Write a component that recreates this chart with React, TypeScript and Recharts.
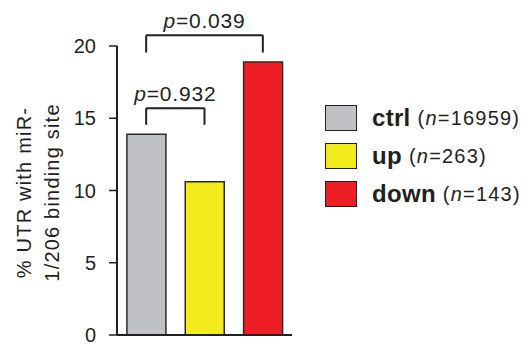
import { BarChart, Bar, Cell, XAxis, YAxis, Legend, ReferenceLine, Label } from "recharts";

const groups = ["ctrl", "up", "down"];
const percents = [13.9, 10.6, 18.9];
const counts = [16959, 263, 143];
const yTicks = [0, 5, 10, 15, 20];

// comparisons: [left group, right group, leg bottom, bracket top, p value]
const pairs: [string, string, number, number, string][] = [
  ["ctrl", "up", 14.55, 15.7, "0.932"],
  ["ctrl", "down", 19.55, 20.75, "0.039"],
];

const COLORS = ["#c0c1c5", "#f2eb19", "#ed1f24"];
const INK = "#231f20";
const FONT = "'Liberation Sans', Arial, sans-serif";

const data = groups.map((name, i) => ({ name, value: percents[i] }));

function LegendBox() {
  return (
    <div style={{ fontFamily: FONT, color: INK }}>
      {groups.map((g, i) => (
        <div key={g} style={{ display: "flex", alignItems: "center", height: 38 }}>
          <div
            style={{
              width: 30,
              height: 24,
              background: COLORS[i],
              border: `1.5px solid ${INK}`,
            }}
          />
          <span style={{ marginLeft: 15, fontSize: 24, fontWeight: "bold", letterSpacing: 0.3 }}>{g}</span>
          <span style={{ marginLeft: 7, fontSize: 20, letterSpacing: 1.2 }}>
            (<i>n</i>={counts[i]})
          </span>
        </div>
      ))}
    </div>
  );
}

export default function App() {
  return (
    <div style={{ position: "absolute", left: 0, top: 0, width: 530, height: 345, background: "#fff" }}>
      <BarChart
        width={530}
        height={345}
        data={data}
        margin={{ top: 46, right: 238, bottom: 0, left: 0 }}
        barCategoryGap="17%"
      >
        <XAxis
          dataKey="name"
          height={10}
          tick={false}
          tickLine={false}
          axisLine={{ stroke: INK, strokeWidth: 2 }}
        />
        <YAxis
          width={117}
          domain={[0, 20]}
          ticks={yTicks}
          interval={0}
          tickSize={8}
          tickMargin={13}
          axisLine={{ stroke: INK, strokeWidth: 2 }}
          tickLine={{ stroke: INK, strokeWidth: 1.5 }}
          tick={{ fill: INK, fontSize: 20, fontFamily: FONT }}
        >
          <Label
            content={({ viewBox }: any) => {
              const cy = viewBox.y + viewBox.height / 2 + 2;
              return (
                <text
                  transform={`translate(31, ${cy}) rotate(-90)`}
                  textAnchor="middle"
                  fill={INK}
                  fontSize={20}
                  fontFamily={FONT}
                  letterSpacing={1.2}
                >
                  <tspan x={0} y={0}>% UTR with miR-</tspan>
                  <tspan x={0} y={28}>1/206 binding site</tspan>
                </text>
              );
            }}
          />
        </YAxis>
        <Bar dataKey="value" isAnimationActive={false} stroke="#2b2b2b" strokeWidth={1.5}>
          {data.map((_, i) => (
            <Cell key={i} fill={COLORS[i]} />
          ))}
        </Bar>
        {pairs.map(([a, b, lo, hi, p]) => [
          <ReferenceLine
            key={`${a}${b}l`}
            segment={[{ x: a, y: lo }, { x: a, y: hi }]}
            stroke={INK}
            strokeWidth={2}
            ifOverflow="visible"
          />,
          <ReferenceLine
            key={`${a}${b}r`}
            segment={[{ x: b, y: lo }, { x: b, y: hi }]}
            stroke={INK}
            strokeWidth={2}
            ifOverflow="visible"
          />,
          <ReferenceLine
            key={`${a}${b}h`}
            segment={[{ x: a, y: hi }, { x: b, y: hi }]}
            stroke={INK}
            strokeWidth={2}
            ifOverflow="visible"
          >
            <Label
              content={({ viewBox }: any) => (
                <text
                  x={viewBox.x + viewBox.width / 2}
                  y={viewBox.y - 7}
                  textAnchor="middle"
                  fill={INK}
                  fontSize={21}
                  fontFamily={FONT}
                  letterSpacing={0.8}
                >
                  <tspan fontStyle="italic">p</tspan>={p}
                </text>
              )}
            />
          </ReferenceLine>,
        ])}
        <Legend
          layout="vertical"
          align="center"
          verticalAlign="middle"
          content={() => <LegendBox />}
          wrapperStyle={{ position: "absolute", left: 325, top: 99, width: 205 }}
        />
      </BarChart>
    </div>
  );
}
